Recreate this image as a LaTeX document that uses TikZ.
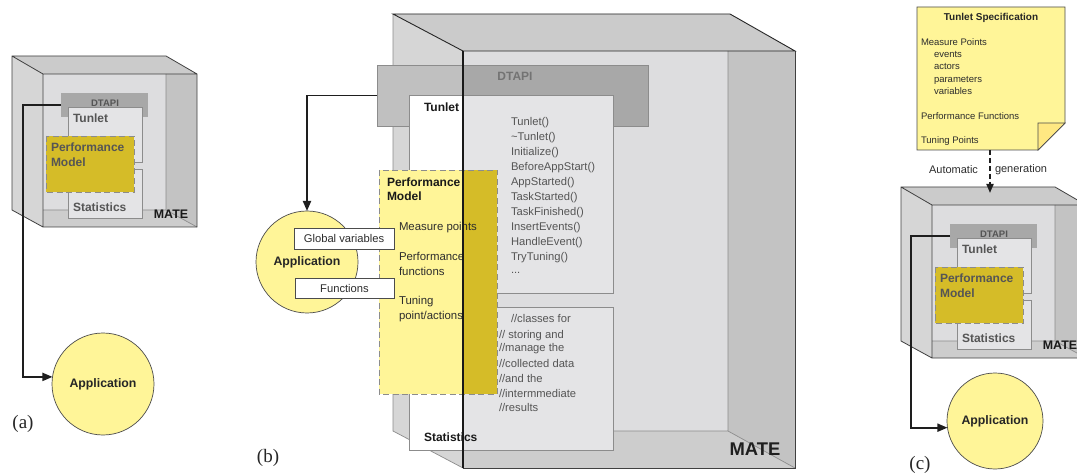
\documentclass[tikz,border=0pt]{standalone}
\usepackage{fontspec}
\setmainfont{Liberation Sans}
\newfontfamily\capserif{Liberation Serif}
\usetikzlibrary{arrows.meta,fit,calc}

\definecolor{lyel}{RGB}{255,245,152}
\definecolor{foldc}{RGB}{255,232,130}
\definecolor{dyel}{RGB}{213,188,40}
\definecolor{topc}{RGB}{203,203,203}
\definecolor{leftc}{RGB}{214,214,214}
\definecolor{backc}{RGB}{221,221,223}
\definecolor{rightc}{RGB}{195,195,195}
\definecolor{botc}{RGB}{205,205,205}
\definecolor{dtapil}{RGB}{192,192,192}
\definecolor{dtapid}{RGB}{168,168,168}
\definecolor{boxg}{RGB}{228,228,230}
\definecolor{edgeg}{RGB}{140,140,140}
\definecolor{txtg}{RGB}{85,85,85}
\definecolor{txtd}{RGB}{45,45,45}
\definecolor{wirec}{RGB}{30,30,30}

\tikzset{
  every node/.style={inner sep=0pt, outer sep=0pt},
  inedge/.style={draw=edgeg, line width=0.7pt},
  outedge/.style={draw=black!75, line width=0.8pt},
  blackedge/.style={draw=black!85, line width=0.9pt},
  frontline/.style={draw=black!90, line width=1.4pt},
  smallbox/.style={fill=boxg, draw=edgeg, line width=0.7pt},
  pmedge/.style={draw=edgeg, line width=0.8pt, dash pattern=on 6pt off 3.5pt},
  wire/.style={draw=wirec, line width=1.8pt, -{Triangle[length=10pt,width=8pt]}},
  dasharrow/.style={draw=wirec, line width=1.8pt, dash pattern=on 5pt off 3pt, -{Triangle[length=9pt,width=7pt]}},
  appcirc/.style={circle, fill=lyel, draw=black!70, line width=0.7pt, font=\fontsize{12.3}{14}\selectfont\bfseries, text=black!85},
  cubelbl/.style={font=\fontsize{12}{14}\selectfont\bfseries, text=txtg},
  dtapitxt/.style={font=\fontsize{9.5}{11}\selectfont\bfseries, text=txtg},
  matetxt/.style={font=\fontsize{12.4}{14}\selectfont\bfseries, text=black!90},
  bigmate/.style={font=\fontsize{18.4}{20}\selectfont\bfseries, text=black!88},
  blbl/.style={font=\fontsize{12}{14}\selectfont\bfseries, text=black!90},
  mtxt/.style={font=\fontsize{11.2}{13}\selectfont, text=txtg},
  pmtxt/.style={font=\fontsize{11.4}{13}\selectfont, text=txtd},
  spectxt/.style={font=\fontsize{9.5}{11}\selectfont, text=txtd},
  boxtxt/.style={font=\fontsize{11.2}{13}\selectfont, text=txtd},
  caplbl/.style={font=\capserif\fontsize{19}{21}\selectfont, text=black!85},
  pics/matecube/.style={code={
    \fill[topc] (-31,-18) -- (123,-18) -- (154,0) -- (0,0) -- cycle;
    \fill[leftc] (-31,-18) -- (0,0) -- (0,153) -- (-31,136) -- cycle;
    \fill[backc] (0,0) rectangle (123,136);
    \fill[rightc] (123,0) -- (154,0) -- (154,153) -- (123,136) -- cycle;
    \fill[botc] (0,136) -- (123,136) -- (154,153) -- (0,153) -- cycle;
    \draw[inedge] (0,136) -- (123,136) -- (123,0) (123,136) -- (154,153);
    \draw[outedge] (-31,-18) -- (123,-18) -- (154,0) -- (154,153) -- (0,153) -- (-31,136) -- cycle
       (-31,-18) -- (0,0) -- (154,0) (0,0) -- (0,153);
    \node[fit={(18,19) (105,43)}, fill=dtapid] (-dtapi) {};
    \node[dtapitxt] (-dtapilbl) at (62,29) {DTAPI};
    \node[fit={(25,33) (99,88)}, smallbox] (-tunlet) {};
    \node[fit={(25,95) (99,144)}, smallbox] (-stats) {};
    \node[fit={(3,62) (91,118)}, fill=dyel] (-pm) {};
    \draw[pmedge] (3,62) rectangle (91,118);
    \node[cubelbl, anchor=base west] (-tl) at (30,48.3) {Tunlet};
    \node[cubelbl, anchor=base west] (-sl) at (30,137.3) {Statistics};
    \node[cubelbl, anchor=base west] (-pl1) at (8,77.3) {Performance};
    \node[cubelbl, anchor=base west] (-pl2) at (8,92.3) {Model};
    \node[matetxt] (-mate) at (128,140) {MATE};
  }}
}

\begin{document}
\begin{tikzpicture}[x=1pt,y=-1pt]
\useasboundingbox (0,0) rectangle (1077,473);
\fill[white] (0,0) rectangle (1077,473);

% ---------------- (a) ----------------
\pic (ca) at (43,74) {matecube};
\node[appcirc, minimum size=102pt] (appa) at (103,384) {Application};
\coordinate (wa) at (23,0);
\draw[wire] (ca-dtapi.west) -| (wa |- appa.172) -- (appa.172);
\node[caplbl] (la) at (23,424) {(a)};

% ---------------- (b) ----------------
\fill[topc] (393,14) -- (730,14) -- (795,51) -- (463,51) -- cycle;
\fill[leftc] (393,14) -- (463,51) -- (463,468) -- (393,431) -- cycle;
\fill[backc] (463,51) rectangle (728,431);
\fill[rightc] (728,51) -- (795,51) -- (795,468) -- (728,431) -- cycle;
\fill[botc] (463,431) -- (728,431) -- (795,468) -- (463,468) -- cycle;
\draw[inedge] (463,431) -- (728,431) -- (728,51) (728,431) -- (795,468)
   (393,14) -- (393,431) -- (463,468);
\draw[outedge] (463,468) -- (795,468) -- (795,51);
\draw[blackedge] (393,14) -- (730,14) -- (795,51) -- (463,51) -- cycle;
\coordinate (fr) at (463,51);
\coordinate (frb) at (463,468);

\node[fit={(377,65) (648,126)}, fill=dtapil, draw=edgeg, line width=0.7pt] (bdtapi) {};
\draw[edgeg, line width=0.7pt, fill=dtapid] (bdtapi.north -| fr) rectangle (bdtapi.south east);
\node[fit={(409,95) (613,293)}, fill=white, draw=edgeg, line width=0.7pt] (btunlet) {};
\draw[edgeg, line width=0.7pt, fill=boxg] (btunlet.north -| fr) rectangle (btunlet.south east);
\node[fit={(409,307) (613,450)}, fill=white, draw=edgeg, line width=0.7pt] (bstats) {};
\draw[edgeg, line width=0.7pt, fill=boxg] (bstats.north -| fr) rectangle (bstats.south east);
\node[fit={(379,170) (497,394)}, fill=lyel] (bpm) {};
\fill[dyel] (bpm.north -| fr) rectangle (bpm.south east);
\draw[pmedge] (bpm.north west) rectangle (bpm.south east);

\node[font=\fontsize{12}{14}\selectfont\bfseries, text=black!55] (bdl) at (515,76) {DTAPI};
\node[blbl, anchor=base west] (btl) at (424,111.3) {Tunlet};
\node[mtxt, anchor=base west] (bm1) at (511,126) {Tunlet()};
\node[mtxt, anchor=base west] (bm2) at (511,141) {\textasciitilde Tunlet()};
\node[mtxt, anchor=base west] (bm3) at (511,156) {Initialize()};
\node[mtxt, anchor=base west] (bm4) at (511,171) {BeforeAppStart()};
\node[mtxt, anchor=base west] (bm5) at (511,186) {AppStarted()};
\node[mtxt, anchor=base west] (bm6) at (511,201) {TaskStarted()};
\node[mtxt, anchor=base west] (bm7) at (511,216) {TaskFinished()};
\node[mtxt, anchor=base west] (bm8) at (511,231) {InsertEvents()};
\node[mtxt, anchor=base west] (bm9) at (511,246) {HandleEvent()};
\node[mtxt, anchor=base west] (bm10) at (511,261) {TryTuning()};
\node[mtxt, anchor=base west] (bm11) at (511,274) {...};
\node[mtxt, anchor=base west] (bc1) at (511,323) {//classes for};
\node[mtxt, anchor=base west] (bc2) at (499,338) {// storing and};
\node[mtxt, anchor=base west] (bc3) at (499,352) {//manage the};
\node[mtxt, anchor=base west] (bc4) at (499,367) {//collected data};
\node[mtxt, anchor=base west] (bc5) at (499,382) {//and the};
\node[mtxt, anchor=base west] (bc6) at (499,397) {//intermmediate};
\node[mtxt, anchor=base west] (bc7) at (499,411) {//results};
\node[blbl, anchor=base west] (bsl) at (424,441.3) {Statistics};

\node[blbl, anchor=base west] (bp1) at (387,186.3) {Performance};
\node[blbl, anchor=base west] (bp2) at (387,200.3) {Model};
\node[pmtxt, anchor=base west] (bp3) at (399,230.1) {Measure points};
\node[pmtxt, anchor=base west] (bp4) at (399,260.1) {Performance};
\node[pmtxt, anchor=base west] (bp5) at (399,275.1) {functions};
\node[pmtxt, anchor=base west] (bp6) at (399,304.1) {Tuning};
\node[pmtxt, anchor=base west] (bp7) at (399,319.1) {point/actions};

\draw[frontline] (fr) -- (frb);
\node[bigmate] (bmate) at (755,449) {MATE};

\node[appcirc, minimum size=102pt] (appb) at (307,262) {Application};
\draw[wire] (bdtapi.west) -| (appb.north);
\node[fit={(294,228) (394,249)}, fill=white, draw=black!70, line width=0.8pt] (gv) {};
\node[boxtxt] (gvl) at (gv.center) {Global variables};
\node[fit={(295,278) (394,298)}, fill=white, draw=black!70, line width=0.8pt] (fn) {};
\node[boxtxt] (fnl) at (fn.center) {Functions};
\node[caplbl] (lb) at (268,458) {(b)};

% ---------------- (c) ----------------
\node[fit={(917,7) (1065,150)}] (spec) {};
\draw[draw=black!70, line width=0.8pt, fill=lyel] (917,7) -- (1065,7) -- (1065,123) -- (1038,150) -- (917,150) -- cycle;
\draw[draw=black!70, line width=0.7pt, fill=foldc] (1065,123) -- (1038,123) -- (1038,150) -- cycle;
\node[font=\fontsize{10}{12}\selectfont\bfseries, text=black!85, anchor=base] (st) at (991,20.6) {Tunlet Specification};
\node[spectxt, anchor=base west] (s1) at (921,45.2) {Measure Points};
\node[spectxt, anchor=base west] (s2) at (934,57.5) {events};
\node[spectxt, anchor=base west] (s3) at (934,69.8) {actors};
\node[spectxt, anchor=base west] (s4) at (934,82.1) {parameters};
\node[spectxt, anchor=base west] (s5) at (934,94.4) {variables};
\node[spectxt, anchor=base west] (s6) at (921,119.2) {Performance Functions};
\node[spectxt, anchor=base west] (s7) at (921,143.4) {Tuning Points};

\pic (cc) at (932,205) {matecube};
\coordinate (atip) at (990,193);
\draw[dasharrow] (spec.south -| atip) -- (atip);
\node[font=\fontsize{11}{13}\selectfont, text=txtd] (auto) at (953.5,170) {Automatic};
\node[font=\fontsize{11}{13}\selectfont, text=txtd, anchor=west] (gen) at (995,170) {generation};

\node[appcirc, minimum size=96pt] (appc) at (995,421) {Application};
\coordinate (wc) at (911,0);
\draw[wire] (cc-dtapi.west) -| (wc |- appc.188) -- (appc.188);
\node[caplbl] (lc) at (920,465) {(c)};
\end{tikzpicture}
\end{document}
